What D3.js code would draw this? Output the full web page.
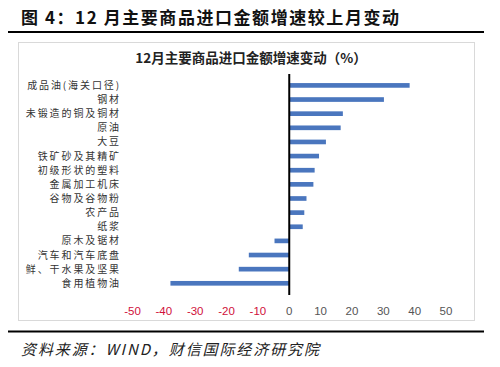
<!DOCTYPE html>
<html>
<head>
<meta charset="utf-8">
<script src="https://cdn.jsdelivr.net/npm/d3@7"></script>
<style>
  body { margin: 0; background: #fff; }
  svg { display: block; }
</style>
</head>
<body>
<div id="chart"></div>
<script>
// Categories, top to bottom
var categories = ["成品油(海关口径)", "钢材", "未锻造的铜及铜材", "原油", "大豆",
    "铁矿砂及其精矿", "初级形状的塑料", "金属加工机床", "谷物及谷物粉", "农产品",
    "纸浆", "原木及锯材", "汽车和汽车底盘", "鲜、干水果及坚果", "食用植物油"];
// Change in import growth rate vs previous month (%)
var values = [38.4, 30.2, 17.1, 16.4, 11.7, 9.5, 8.1, 7.7, 5.5, 4.8, 4.3, -4.7, -12.9, -16.1, -37.9];
var ticks = [-50, -40, -30, -20, -10, 0, 10, 20, 30, 40, 50];

var width = 500, height = 367;
var cjk = "'Noto Sans CJK SC', 'Noto Sans', sans-serif";

var svg = d3.select("#chart").append("svg")
    .attr("width", width)
    .attr("height", height);

// Figure heading
svg.append("text")
    .attr("x", 21)
    .attr("y", 24)
    .attr("textLength", 378)
    .attr("lengthAdjust", "spacing")
    .style("font-family", cjk)
    .style("font-size", "17px")
    .style("font-weight", "bold")
    .style("fill", "#111")
    .text("图 4：12 月主要商品进口金额增速较上月变动");

svg.append("line")
    .attr("x1", 8).attr("x2", 484)
    .attr("y1", 32).attr("y2", 32)
    .style("stroke", "#000").style("stroke-width", 2);

// Chart frame
svg.append("rect")
    .attr("x", 18.5).attr("y", 42.5)
    .attr("width", 456).attr("height", 278)
    .style("fill", "#fff")
    .style("stroke", "#d9d9d9");

svg.append("text")
    .attr("x", 251)
    .attr("y", 63)
    .attr("text-anchor", "middle")
    .style("font-family", cjk)
    .style("font-size", "13.5px")
    .style("font-weight", "bold")
    .style("fill", "#222")
    .text("12月主要商品进口金额增速变动（%）");

var x = d3.scaleLinear()
    .domain([-50, 50])
    .range([132.5, 446]);

var y = d3.scaleBand()
    .domain(categories)
    .range([73.6, 295.1])
    .padding(0.67);

// Bars
svg.selectAll(".bar")
    .data(values)
    .enter()
    .append("rect")
    .attr("class", "bar")
    .attr("x", (d) => x(Math.min(0, d)))
    .attr("y", (d, i) => y(categories[i]))
    .attr("width", (d) => Math.abs(x(d) - x(0)))
    .attr("height", y.bandwidth())
    .style("fill", "#4a76be");

// Zero line
svg.append("line")
    .attr("x1", x(0)).attr("x2", x(0))
    .attr("y1", 74).attr("y2", 295)
    .style("stroke", "#000").style("stroke-width", 2);

// Category labels
svg.selectAll(".cat")
    .data(categories)
    .enter()
    .append("text")
    .attr("class", "cat")
    .attr("x", 121)
    .attr("y", (d) => y(d) + y.bandwidth() / 2)
    .attr("dy", "0.35em")
    .attr("text-anchor", "end")
    .style("font-family", cjk)
    .style("font-size", "10px")
    .style("letter-spacing", "1.9px")
    .style("fill", "#333")
    .text((d) => d);

// Tick labels
svg.selectAll(".tick-label")
    .data(ticks)
    .enter()
    .append("text")
    .attr("class", "tick-label")
    .attr("x", (d) => x(d))
    .attr("y", 315)
    .attr("text-anchor", "middle")
    .style("font-family", "'Liberation Sans', Arial, sans-serif")
    .style("font-size", "11.5px")
    .style("fill", (d) => d < 0 ? "#d0103a" : "#555")
    .text((d) => d);

// Footer
svg.append("line")
    .attr("x1", 8).attr("x2", 484)
    .attr("y1", 331.5).attr("y2", 331.5)
    .style("stroke", "#000").style("stroke-width", 2);

svg.append("text")
    .attr("x", 21)
    .attr("y", 355)
    .attr("textLength", 298)
    .attr("lengthAdjust", "spacing")
    .style("font-family", cjk)
    .style("font-size", "15px")
    .style("font-style", "italic")
    .style("fill", "#222")
    .text("资料来源：WIND，财信国际经济研究院");
</script>
</body>
</html>
